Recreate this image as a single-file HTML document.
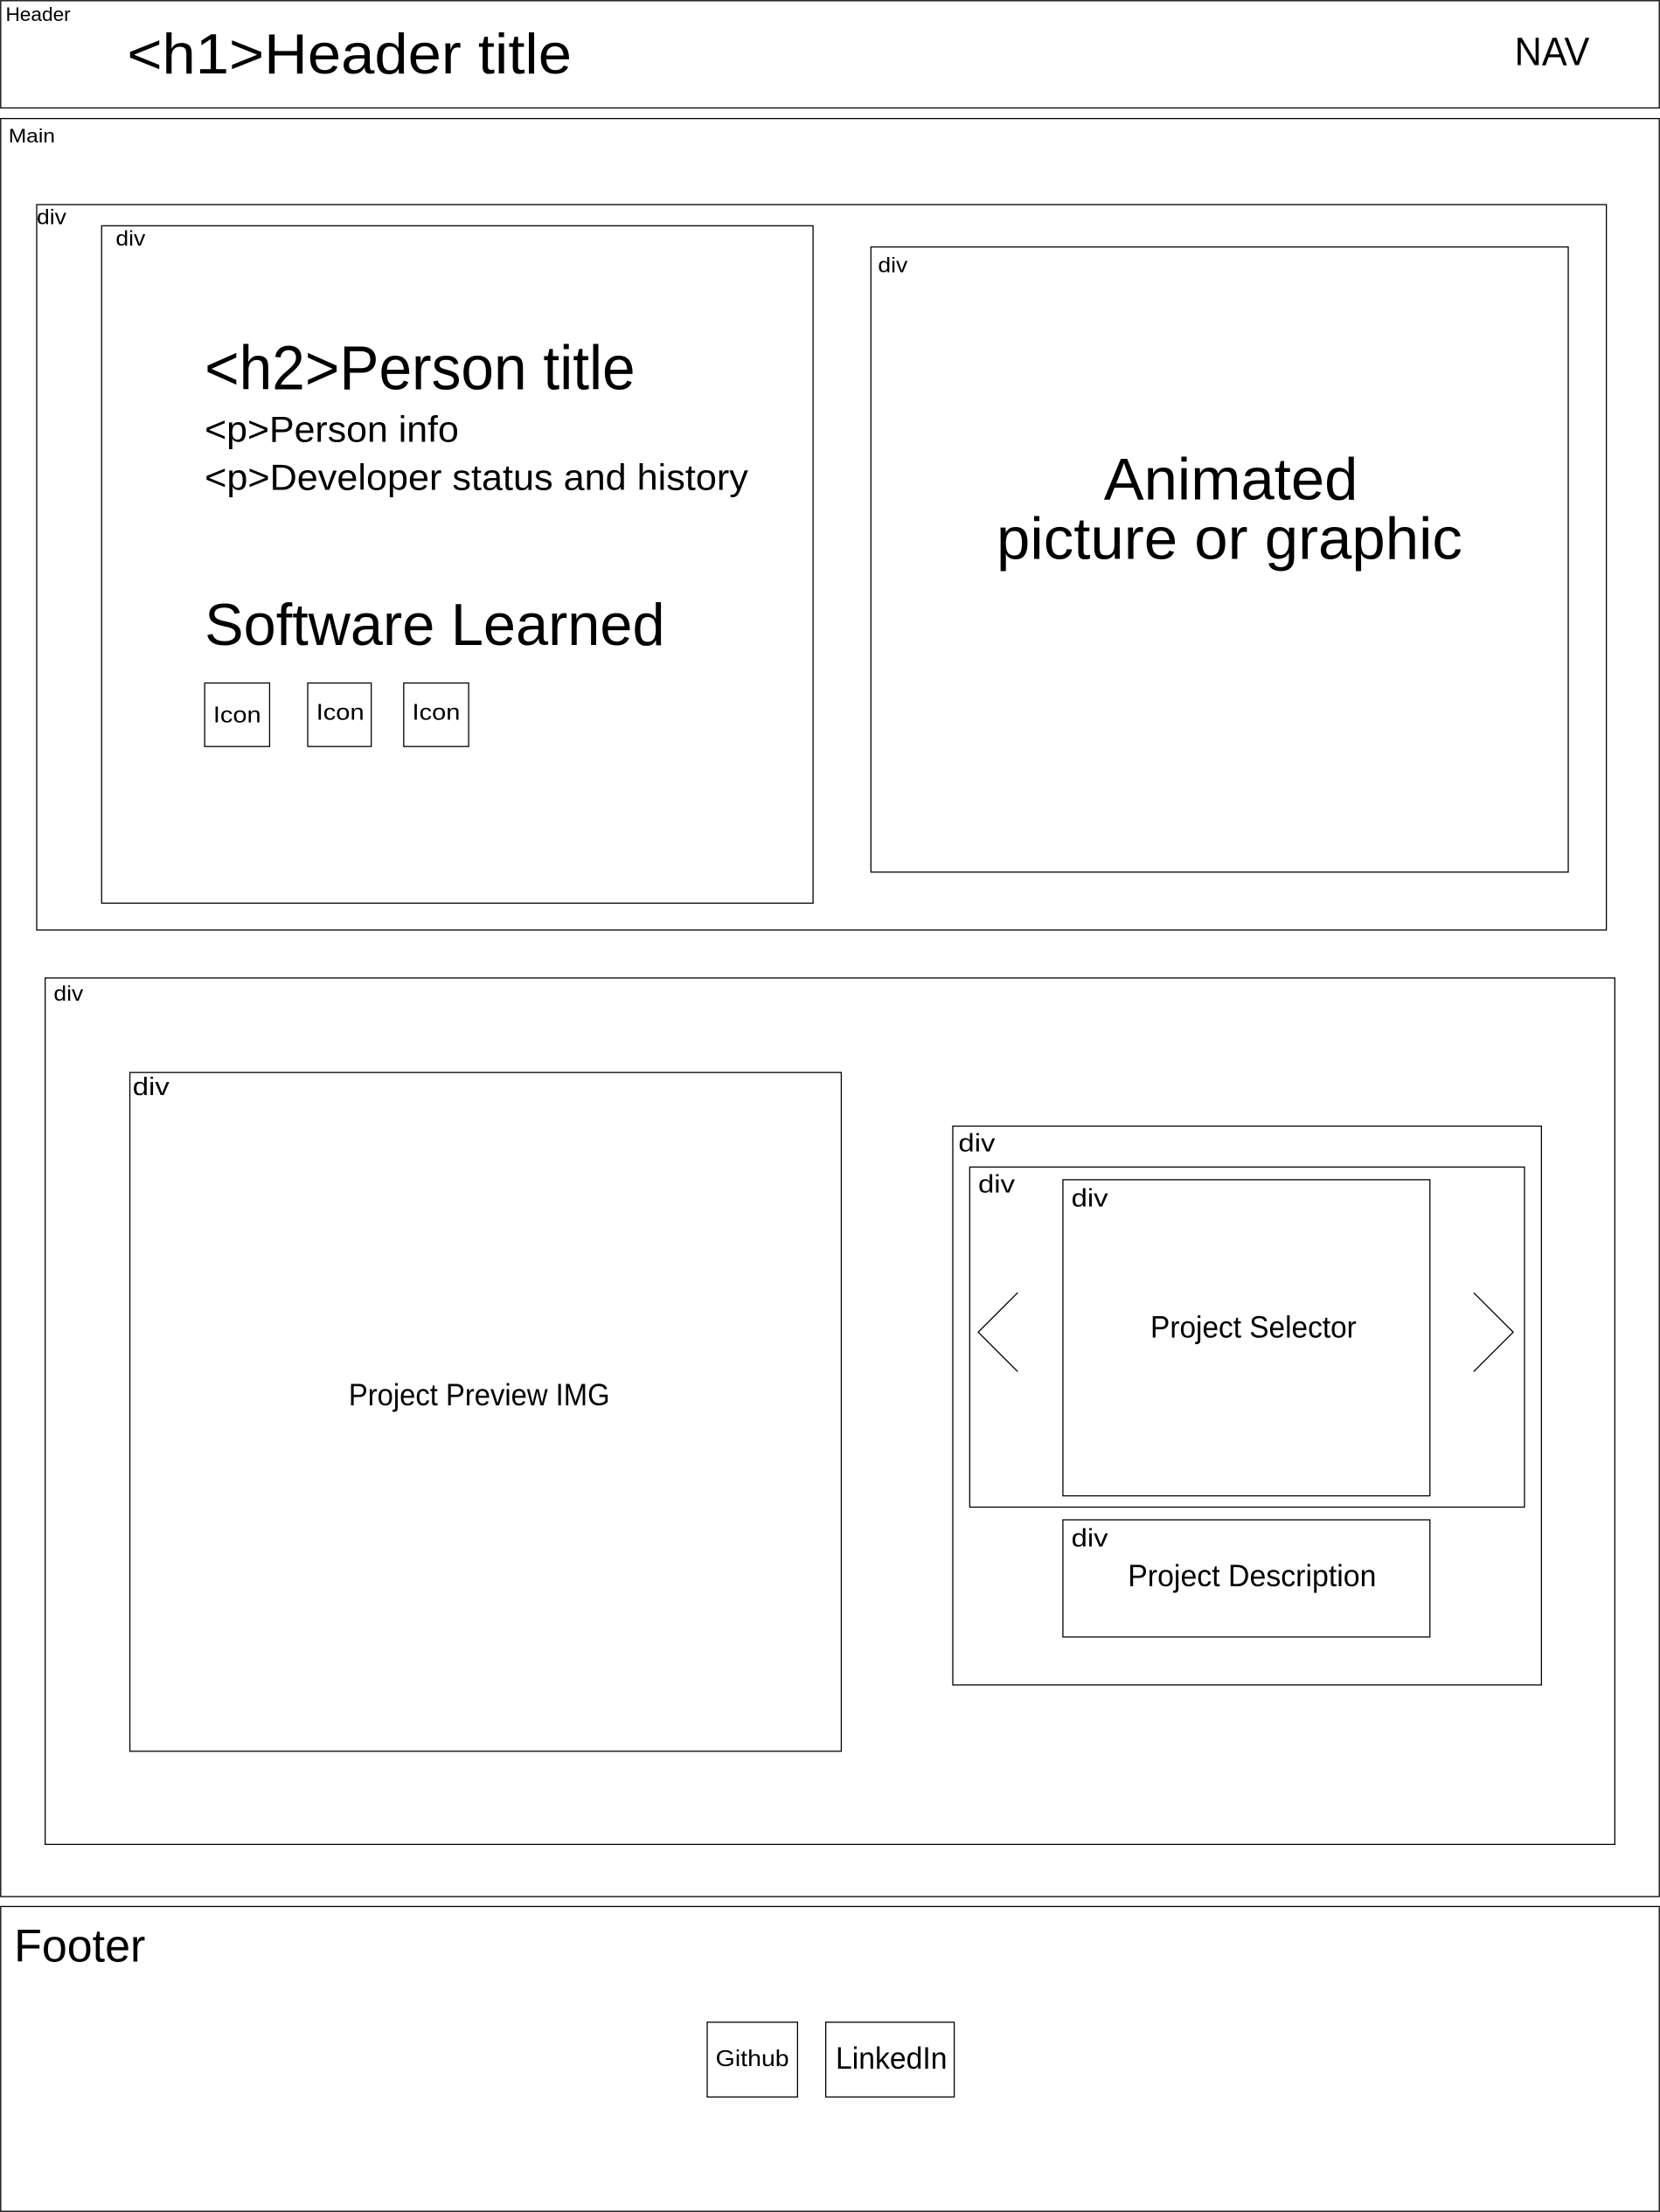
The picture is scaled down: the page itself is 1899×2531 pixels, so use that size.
<!DOCTYPE html>
<html><head><meta charset="utf-8"><style>html,body{margin:0;padding:0;background:#fff}svg{display:block}text{font-family:"Liberation Sans",sans-serif;fill:#000}</style></head>
<body>
<svg width="1899" height="2531" viewBox="0 0 1176 1567.5" preserveAspectRatio="none" xmlns="http://www.w3.org/2000/svg">
<g fill="none" stroke="#000" stroke-width="0.8">
<rect x="0.5" y="0.5" width="1175" height="76"/>
<rect x="0.5" y="84" width="1175" height="1260"/>
<rect x="0.5" y="1351" width="1175" height="216"/>
<rect x="26" y="145" width="1112" height="514"/>
<rect x="72" y="160" width="504" height="480"/>
<rect x="617" y="175" width="494" height="443"/>
<rect x="32" y="693" width="1112" height="614"/>
<rect x="92" y="760" width="504" height="481"/>
<rect x="675" y="798" width="417" height="396"/>
<rect x="687" y="827" width="393" height="241"/>
<rect x="753" y="836" width="260" height="224"/>
<rect x="753" y="1077" width="260" height="83"/>
<rect x="145" y="484" width="46" height="45"/>
<rect x="218" y="484" width="45" height="45"/>
<rect x="286" y="484" width="46" height="45"/>
<rect x="501" y="1433" width="64" height="53"/>
<rect x="585" y="1433" width="91" height="53"/>
<polyline points="721,916 693,944 721,972"/>
<polyline points="1044,916 1072,944 1044,972"/>
</g>
<text x="4" y="15" font-size="14" textLength="46" lengthAdjust="spacingAndGlyphs">Header</text>
<text x="90" y="52" font-size="40" textLength="315" lengthAdjust="spacingAndGlyphs">&lt;h1&gt;Header title</text>
<text x="1073" y="46" font-size="28" textLength="53" lengthAdjust="spacingAndGlyphs">NAV</text>
<text x="6" y="101" font-size="14" textLength="33" lengthAdjust="spacingAndGlyphs">Main</text>
<text x="26" y="159" font-size="15" textLength="21" lengthAdjust="spacingAndGlyphs">div</text>
<text x="82" y="174" font-size="15" textLength="21" lengthAdjust="spacingAndGlyphs">div</text>
<text x="622" y="193" font-size="15" textLength="21" lengthAdjust="spacingAndGlyphs">div</text>
<text x="145" y="276" font-size="44" textLength="305" lengthAdjust="spacingAndGlyphs">&lt;h2&gt;Person title</text>
<text x="145" y="313" font-size="26" textLength="180" lengthAdjust="spacingAndGlyphs">&lt;p&gt;Person info</text>
<text x="145" y="347" font-size="26" textLength="385" lengthAdjust="spacingAndGlyphs">&lt;p&gt;Developer status and history</text>
<text x="145" y="457" font-size="42" textLength="326" lengthAdjust="spacingAndGlyphs">Software Learned</text>
<text x="151" y="512" font-size="16" textLength="34" lengthAdjust="spacingAndGlyphs">Icon</text>
<text x="224" y="510" font-size="16" textLength="34" lengthAdjust="spacingAndGlyphs">Icon</text>
<text x="292" y="510" font-size="16" textLength="34" lengthAdjust="spacingAndGlyphs">Icon</text>
<text x="782" y="354" font-size="42" textLength="180" lengthAdjust="spacingAndGlyphs">Animated</text>
<text x="706" y="396" font-size="42" textLength="330" lengthAdjust="spacingAndGlyphs">picture or graphic</text>
<text x="38" y="709" font-size="15" textLength="21" lengthAdjust="spacingAndGlyphs">div</text>
<text x="94" y="776" font-size="18" textLength="26" lengthAdjust="spacingAndGlyphs">div</text>
<text x="247" y="996" font-size="22" textLength="185" lengthAdjust="spacingAndGlyphs">Project Preview IMG</text>
<text x="679" y="816" font-size="18" textLength="26" lengthAdjust="spacingAndGlyphs">div</text>
<text x="693" y="845" font-size="18" textLength="26" lengthAdjust="spacingAndGlyphs">div</text>
<text x="759" y="855" font-size="18" textLength="26" lengthAdjust="spacingAndGlyphs">div</text>
<text x="815" y="948" font-size="22" textLength="146" lengthAdjust="spacingAndGlyphs">Project Selector</text>
<text x="759" y="1096" font-size="18" textLength="26" lengthAdjust="spacingAndGlyphs">div</text>
<text x="799" y="1124" font-size="22" textLength="176" lengthAdjust="spacingAndGlyphs">Project Description</text>
<text x="10" y="1390" font-size="33" textLength="93" lengthAdjust="spacingAndGlyphs">Footer</text>
<text x="507" y="1464" font-size="16" textLength="52" lengthAdjust="spacingAndGlyphs">Github</text>
<text x="592" y="1466" font-size="22" textLength="79" lengthAdjust="spacingAndGlyphs">LinkedIn</text>
</svg>
</body></html>
